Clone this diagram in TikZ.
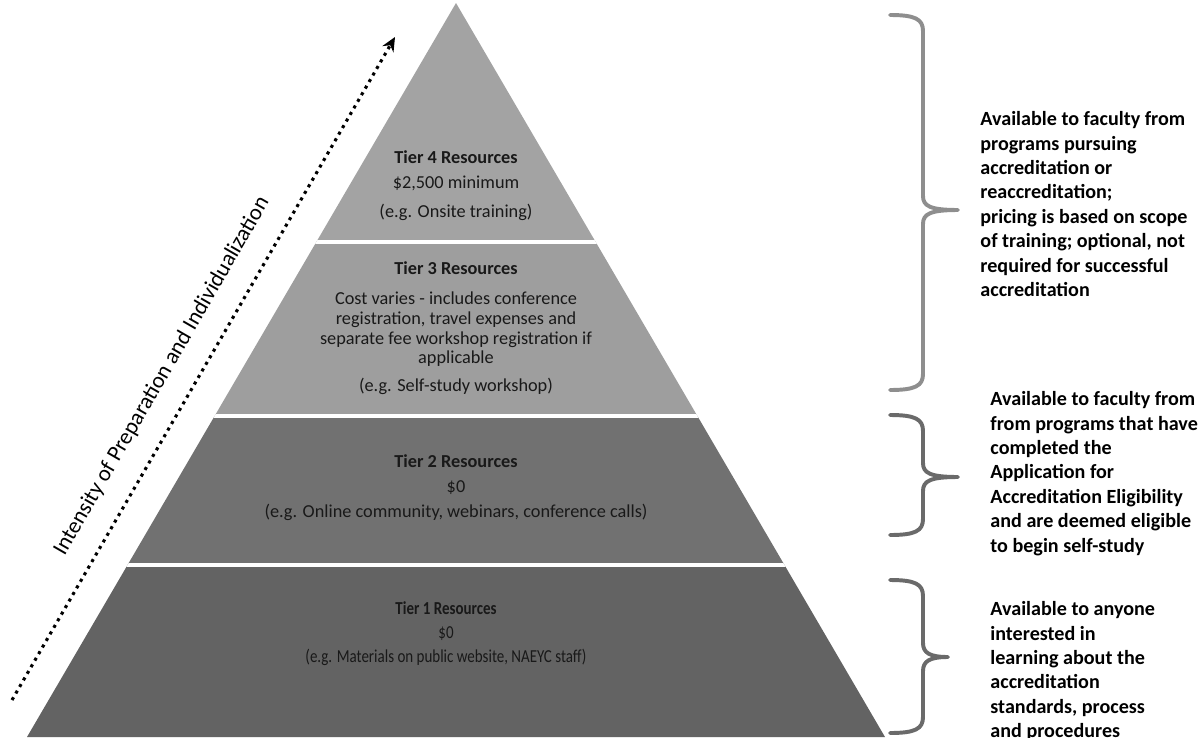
\documentclass[tikz,border=0pt]{standalone}
\usepackage{fontspec}
\setmainfont{Carlito}
\newfontfamily\narrowfont[FakeStretch=0.82]{Carlito}
\usetikzlibrary{arrows.meta,positioning}

\definecolor{tierfourgray}{HTML}{A3A3A3}
\definecolor{tierthreegray}{HTML}{9E9E9E}
\definecolor{tiertwogray}{HTML}{717171}
\definecolor{tieronegray}{HTML}{636363}
\definecolor{bracegray}{HTML}{8E8E8E}
\definecolor{bracedark}{HTML}{6A6A6A}

% curly brace on the right: top, middle, bottom, tip x
\newcommand{\sidebrace}[5]{%
  \draw[bracestyle, #5] (890,#1) .. controls (915,#1) and (923,#1+4) .. (923,#1+16)
    -- (923,#2-14) .. controls (923,#2-4) and (930,#2) .. (#4,#2)
    (#4,#2) .. controls (930,#2) and (923,#2+4) .. (923,#2+14)
    -- (923,#3-16) .. controls (923,#3-4) and (915,#3) .. (890,#3);
}

\begin{document}
\begin{tikzpicture}[
    x = 0.025cm, % one pixel of the layout
    y = -0.025cm, % y runs downwards
    semithick % line style
    ]

    \tikzset{
    tiertext/.style={align=center, anchor=north, inner sep=0pt, text=black!90,
      font=\fontsize{13}{14.2}\selectfont},
    sidetext/.style={align=left, anchor=north west, inner sep=0pt,
      font=\bfseries\fontsize{14.3}{17.4}\selectfont},
    axislabel/.style={rotate=60, anchor=base, inner sep=0pt, font=\fontsize{16}{18}\selectfont},
    intensityarrow/.style={line width=2.2pt, dash pattern=on 2.2pt off 3.2pt,
      -{Stealth[length=10pt,width=9pt]}},
    bracestyle/.style={line width=2.8pt, line cap=round, line join=round}
    }

    \useasboundingbox (0,0) rectangle (1204,737);

    \coordinate (apex) at (456,3);
    \coordinate (baseleft) at (27,737);
    \coordinate (baseright) at (885,737);

    % pyramid tiers
    \begin{scope}
    \clip (apex) -- (baseleft) -- (baseright) -- cycle;
    \fill[tierfourgray] (0,0) rectangle (1204,242);
    \fill[tierthreegray] (0,242) rectangle (1204,416);
    \fill[tiertwogray] (0,416) rectangle (1204,565);
    \fill[tieronegray] (0,565) rectangle (1204,740);
    \foreach \y in {242,416,565}
      \draw[white, line width=3.5pt] (0,\y) -- (1204,\y);
    \end{scope}

    \node[tiertext] (tier4) at (456,150) {\textbf{Tier 4 Resources}\\[3.6pt]
      \$2,500 minimum\\[6.4pt] (e.g. Onsite training)};
    \node[tiertext] (tier3) at (456,261) {\textbf{Tier 3 Resources}\\[7pt]
      Cost varies - includes conference\\ registration, travel expenses and\\
      separate fee workshop registration if\\ applicable\\[5.7pt]
      (e.g. Self-study workshop)};
    \node[tiertext] (tier2) at (456,454) {\textbf{Tier 2 Resources}\\[3.6pt]
      \$0\\[3.6pt] (e.g. Online community, webinars, conference calls)};
    \node[tiertext, font=\narrowfont\fontsize{13}{14.2}\selectfont] (tier1) at (446,601)
      {\textbf{Tier 1 Resources}\\[2.8pt] \$0\\[2.8pt]
      (e.g. Materials on public website,  NAEYC staff)};

    % intensity arrow
    \coordinate (arrowstart) at (12,700);
    \coordinate (arrowend) at (395,37);
    \draw[intensityarrow] (arrowstart) -- (arrowend);
    \node[axislabel] (intensity) at (167,379) {Intensity of Preparation and Individualization};

    % braces and who can use each tier
    \sidebrace{15}{210}{390}{958}{bracegray}
    \sidebrace{415}{477}{535}{958}{bracedark}
    \sidebrace{580}{657}{733}{948}{bracedark}

    \node[sidetext] (who4) at (980,111) {Available to faculty from\\ programs pursuing\\
      accreditation or\\ reaccreditation;\\ pricing is based on scope\\
      of training; optional, not\\ required for successful\\ accreditation};
    \node[sidetext] (who2) at (990,391) {Available to faculty from\\ from programs that have\\
      completed the\\ Application for\\ Accreditation Eligibility\\
      and are deemed eligible\\ to begin self-study};
    \node[sidetext] (who1) at (990,601) {Available to anyone\\ interested in\\
      learning about the\\ accreditation\\ standards, process\\ and procedures};
\end{tikzpicture}
\end{document}
